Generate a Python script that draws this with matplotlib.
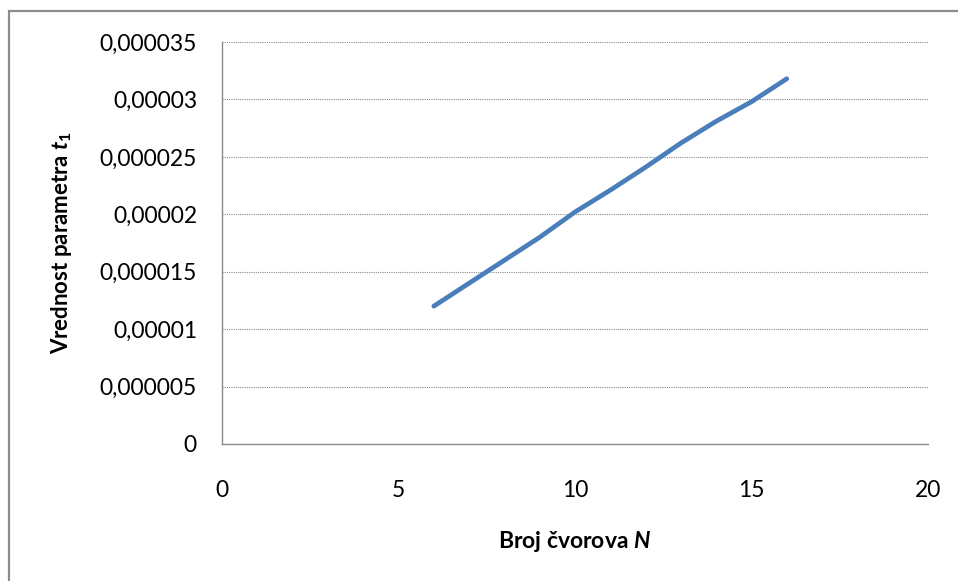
import numpy as np
import matplotlib
matplotlib.use("Agg")
import matplotlib.pyplot as plt
from matplotlib.patches import Rectangle

plt.rcParams['font.family'] = ['Lato', 'DejaVu Sans']
plt.rcParams['mathtext.fontset'] = 'custom'
plt.rcParams['mathtext.it'] = 'Lato:bold:italic'
plt.rcParams['mathtext.rm'] = 'Lato:bold'

# data
N = [6, 7, 8, 9, 10, 11, 12, 13, 14, 15, 16]
t1 = [12.0, 14.0, 16.0, 18.0, 20.2, 22.1, 24.1, 26.2, 28.1, 29.8, 31.8]  # x 1e-6
t1 = np.array(t1) * 1e-6

yticks = [0, 0.000005, 0.00001, 0.000015, 0.00002, 0.000025, 0.00003, 0.000035]
ytick_labels = ['0', '0,000005', '0,00001', '0,000015', '0,00002', '0,000025', '0,00003', '0,000035']
xticks = [0, 5, 10, 15, 20]

fig = plt.figure(figsize=(9.58, 5.81), dpi=100)
ax = fig.add_axes([222/958, 137/581, 706/958, 402/581])

ax.plot(N, t1, color='#4a7ebb', lw=3.4, solid_capstyle='round', solid_joinstyle='round')

ax.set_xlim(0, 20)
ax.set_ylim(0, 0.000035)
ax.set_xticks(xticks)
ax.set_yticks(yticks)
ax.set_yticklabels(ytick_labels)
ax.tick_params(axis='both', length=0, labelsize=16.5, colors='#000000')
ax.tick_params(axis='y', pad=18)
ax.tick_params(axis='x', pad=26)

ax.grid(axis='y', linestyle=(0, (1, 1)), color='#8c8c8c', lw=0.8)
ax.set_axisbelow(True)
for s in ['top', 'right']:
    ax.spines[s].set_visible(False)
for s in ['left', 'bottom']:
    ax.spines[s].set_color('#8c8c8c')
    ax.spines[s].set_linewidth(1.0)

fig.text(575/958, 1 - 541/581, r'Broj čvorova $N$', ha='center', va='center',
         fontsize=16.5, fontweight='bold')
fig.text(62/958, 1 - 243/581, r'Vrednost parametra $t_1$', ha='center', va='center',
         fontsize=16, fontweight='bold', rotation=90)

# outer chart border
fig.patches.append(Rectangle((9/958, -0.1), 1.0, 1 - 11/581 + 0.1, transform=fig.transFigure,
                             fill=False, edgecolor='#8c8c8c', lw=1.6))

fig.savefig('out.png', dpi=100)
